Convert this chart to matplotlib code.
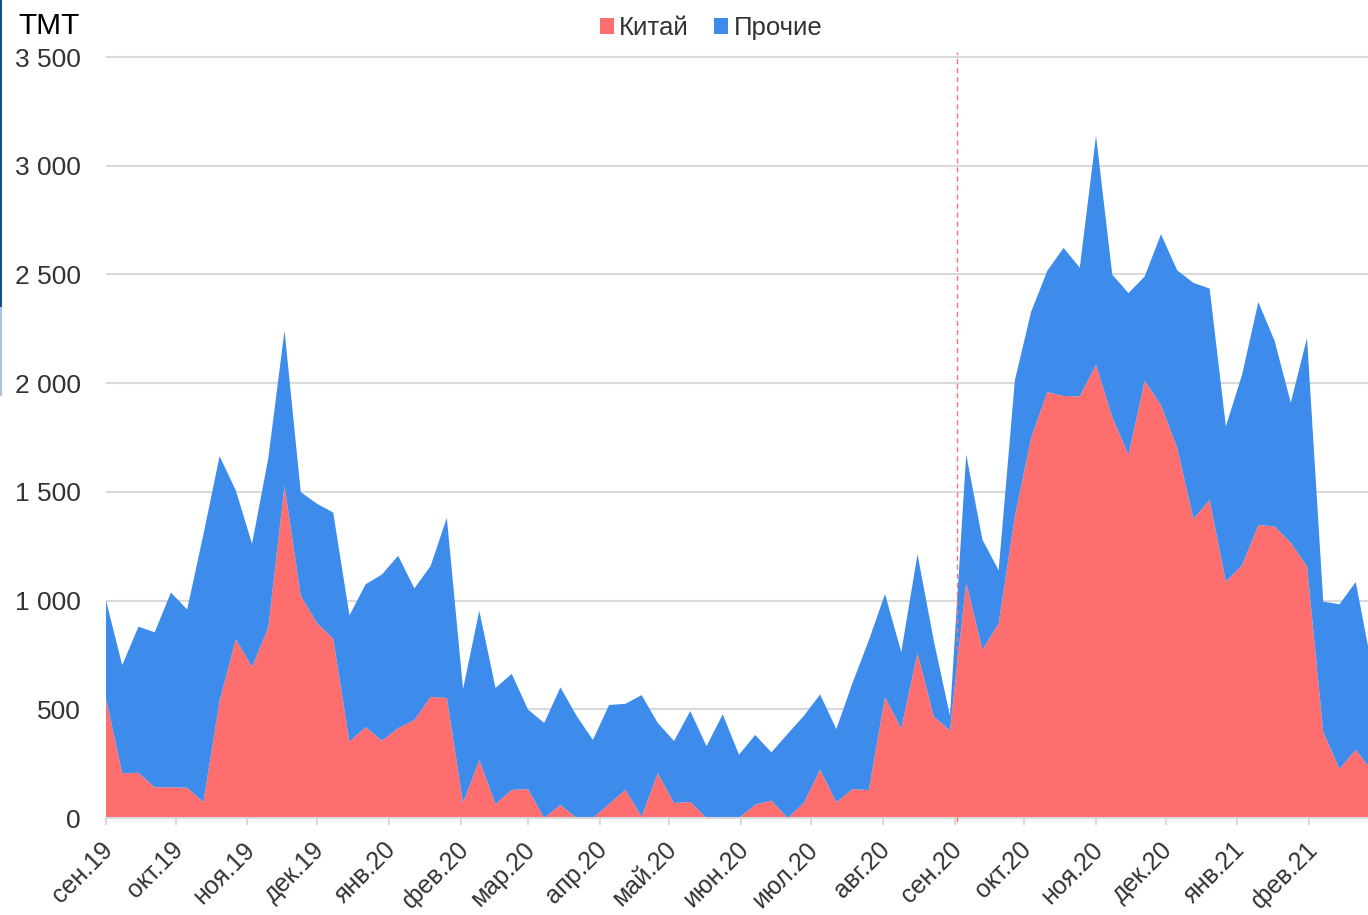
import matplotlib
matplotlib.use("Agg")
import matplotlib.pyplot as plt
from matplotlib.patches import Patch
from matplotlib.lines import Line2D
from matplotlib.transforms import ScaledTranslation
import numpy as np
import pandas as pd

plt.rcParams['font.family'] = ['Liberation Sans', 'DejaVu Sans']

# weekly observations starting 2019-09-01
start_date = "2019-09-01"
n_weeks = 79
china = [550, 206, 208, 141, 141, 139, 73, 538, 822, 694,
         876, 1529, 1022, 897, 825, 351, 418, 355, 413, 450,
         557, 552, 70, 266, 64, 129, 133, 0, 60, 0,
         0, 64, 130, 6, 206, 69, 74, 0, 3, 0,
         61, 80, 0, 70, 222, 72, 133, 128, 557, 411,
         759, 467, 402, 1083, 774, 894, 1387, 1748, 1959, 1941,
         1939, 2085, 1844, 1670, 2011, 1899, 1703, 1375, 1463, 1086,
         1163, 1347, 1341, 1266, 1157, 395, 225, 314, 218]
other = [450, 497, 672, 713, 896, 820, 1231, 1126, 684, 567,
         779, 713, 477, 548, 580, 581, 657, 765, 793, 606,
         602, 829, 523, 687, 534, 534, 366, 437, 541, 469,
         359, 456, 395, 559, 231, 285, 418, 330, 474, 291,
         321, 222, 387, 400, 346, 337, 489, 689, 473, 352,
         454, 350, 68, 589, 506, 245, 626, 580, 558, 681,
         592, 1054, 655, 744, 480, 786, 816, 1086, 972, 715,
         876, 1026, 854, 644, 1051, 600, 758, 771, 480]
series_names = ["Китай", "Прочие"]
month_abbr = ["янв", "фев", "мар", "апр", "май", "июн",
              "июл", "авг", "сен", "окт", "ноя", "дек"]
y_ticks = [0, 500, 1000, 1500, 2000, 2500, 3000, 3500]
y_unit = "TMT"
marker_date = "2020-09-02"

c_red = "#ff6e6e"
c_blue = "#3d8beb"
grid_c = "#d9d9d9"
text_c = "#333333"

dates = pd.date_range(start_date, periods=n_weeks, freq="7D")

fig = plt.figure(figsize=(13.68, 9.15), dpi=100)
W, H = 1368, 915
ax = fig.add_axes([106 / W, 1 - 818 / H, 1 - 106 / W, (818 - 52) / H])

ax.stackplot(dates, china, other, colors=[c_red, c_blue], linewidth=0,
             zorder=2)

x0 = pd.Timestamp(start_date)
ax.set_xlim(x0, x0 + pd.Timedelta(days=544.3))
ax.set_ylim(0, 3523)

# grid
ax.set_yticks(y_ticks)
ax.set_yticklabels([f"{v:,}".replace(",", " ") for v in y_ticks])
ax.yaxis.grid(True, color=grid_c, linewidth=1.5, zorder=0)
ax.set_axisbelow(True)
ax.tick_params(axis='y', length=0, pad=18, labelsize=19, labelcolor=text_c)

for s in ["top", "right", "left"]:
    ax.spines[s].set_visible(False)
ax.spines["bottom"].set_color(grid_c)
ax.spines["bottom"].set_linewidth(1.5)
ax.spines["bottom"].set_zorder(3)

# month ticks
month_starts = pd.date_range("2019-09-01", "2021-02-01", freq="MS")
ax.set_xticks(month_starts)
ax.set_xticklabels([f"{month_abbr[d.month - 1]}.{d.year % 100:02d}" for d in month_starts])
ax.tick_params(axis='x', length=5, width=1.5, color=grid_c, pad=9,
               labelsize=18, labelcolor=text_c)
shift = ScaledTranslation(-5 / 100, 0, fig.dpi_scale_trans)
for lab in ax.get_xticklabels():
    lab.set_rotation(45)
    lab.set_ha("right")
    lab.set_va("top")
    lab.set_rotation_mode("anchor")
    lab.set_transform(lab.get_transform() + shift)

# dashed marker line
md = pd.Timestamp(marker_date)
ax.plot([md, md], [-20, 3523], color="#ff7070", linewidth=1.0,
        linestyle=(0, (3.6, 2.9)), clip_on=False, zorder=4)

# unit label
fig.text(18 / W, 1 - 26 / H, y_unit, fontsize=21.5, color="black",
         ha="left", va="center")

# legend
handles = [Patch(facecolor=c_red, edgecolor="none"),
           Patch(facecolor=c_blue, edgecolor="none")]
fig.legend(handles, series_names, loc="center", bbox_to_anchor=(711 / W, 1 - 28 / H),
           ncol=2, frameon=False, fontsize=18.5, handlelength=0.55, handleheight=0.55,
           handletextpad=0.2, columnspacing=1.0, labelcolor=text_c)

# left edge border artifact
fig.add_artist(Line2D([0.0008, 0.0008], [1.0, 1 - 308 / H], color="#1a4f8f",
                      linewidth=1.5, transform=fig.transFigure))
fig.add_artist(Line2D([0.0008, 0.0008], [1 - 308 / H, 1 - 395 / H], color="#a8c3e4",
                      linewidth=1.5, transform=fig.transFigure))

fig.savefig("out.png", dpi=100)
